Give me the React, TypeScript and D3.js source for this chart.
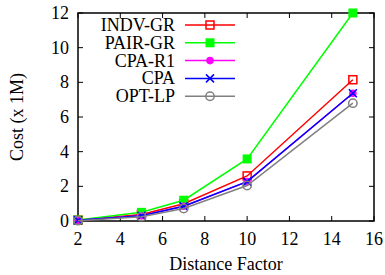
import React, { useEffect, useRef } from "react";
import * as d3 from "d3";

// distance factors on x axis
const distance = [2, 5, 7, 10, 15];

const indvGr = [0.05, 0.38, 1.0, 2.6, 8.15];
const pairGr = [0.06, 0.5, 1.2, 3.58, 12.0];
const cpaR1 = [0.04, 0.3, 0.85, 2.27, 7.37];
const cpa = [0.04, 0.3, 0.85, 2.27, 7.37];
const optLp = [0.02, 0.25, 0.72, 2.05, 6.8];

const seriesNames = ["INDV-GR", "PAIR-GR", "CPA-R1", "CPA", "OPT-LP"];
const seriesColors = ["#ff0000", "#00ff00", "#ff00ff", "#0000ff", "#808080"];
const seriesMarkers = ["openSquare", "square", "dot", "cross", "openCircle"];

const xTicks = [2, 4, 6, 8, 10, 12, 14, 16];
const yTicks = [0, 2, 4, 6, 8, 10, 12];

function App() {
  const ref = useRef<SVGSVGElement>(null);

  useEffect(() => {
    const svg = d3.select(ref.current);
    svg.selectAll("*").remove();

    const left = 78, right = 374, top = 13, bottom = 221;

    const x = d3.scaleLinear().domain([2, 16]).range([left, right]);
    const y = d3.scaleLinear().domain([0, 12]).range([bottom, top]);

    const g = svg.append("g").style("font-family", "'Liberation Serif', serif").style("font-size", "18px");

    // inward ticks on all four sides
    const tick = 5;
    xTicks.forEach((t) => {
      g.append("line").attr("x1", x(t)).attr("x2", x(t)).attr("y1", bottom).attr("y2", bottom - tick).attr("stroke", "#000");
      g.append("line").attr("x1", x(t)).attr("x2", x(t)).attr("y1", top).attr("y2", top + tick).attr("stroke", "#000");
      g.append("text").attr("x", x(t)).attr("y", bottom + 24).attr("text-anchor", "middle").text(t);
    });
    yTicks.forEach((t) => {
      g.append("line").attr("x1", left).attr("x2", left + tick).attr("y1", y(t)).attr("y2", y(t)).attr("stroke", "#000");
      g.append("line").attr("x1", right).attr("x2", right - tick).attr("y1", y(t)).attr("y2", y(t)).attr("stroke", "#000");
      g.append("text").attr("x", left - 9).attr("y", y(t) + 6).attr("text-anchor", "end").text(t);
    });

    g.append("rect").attr("x", left).attr("y", top).attr("width", right - left).attr("height", bottom - top)
      .attr("fill", "none").attr("stroke", "#000").attr("stroke-width", 1.5);

    g.append("text").attr("x", (left + right) / 2).attr("y", 270).attr("text-anchor", "middle").text("Distance Factor");
    g.append("text").attr("transform", `translate(23, ${(top + bottom) / 2}) rotate(-90)`)
      .attr("text-anchor", "middle").text("Cost (x 1M)");

    const drawMarker = (sel: any, kind: string, cx: number, cy: number, color: string) => {
      const s = 4;
      if (kind === "openSquare") {
        sel.append("rect").attr("x", cx - s).attr("y", cy - s).attr("width", 2 * s).attr("height", 2 * s)
          .attr("fill", "none").attr("stroke", color).attr("stroke-width", 1.5);
      } else if (kind === "square") {
        sel.append("rect").attr("x", cx - s - 0.5).attr("y", cy - s - 0.5).attr("width", 2 * s + 1).attr("height", 2 * s + 1)
          .attr("fill", color);
      } else if (kind === "dot") {
        sel.append("circle").attr("cx", cx).attr("cy", cy).attr("r", 3.8).attr("fill", color);
      } else if (kind === "cross") {
        sel.append("path").attr("d", `M${cx - s},${cy - s}L${cx + s},${cy + s}M${cx - s},${cy + s}L${cx + s},${cy - s}`)
          .attr("stroke", color).attr("stroke-width", 1.5);
      } else {
        sel.append("circle").attr("cx", cx).attr("cy", cy).attr("r", 4.2)
          .attr("fill", "none").attr("stroke", color).attr("stroke-width", 1.5);
      }
    };

    const allSeries = [indvGr, pairGr, cpaR1, cpa, optLp];
    const line = d3.line<number>().x((d, i) => x(distance[i])).y((d) => y(d));

    allSeries.forEach((vals, k) => {
      const sg = g.append("g");
      sg.append("path").datum(vals).attr("d", line).attr("fill", "none")
        .attr("stroke", seriesColors[k]).attr("stroke-width", 1.5);
      vals.forEach((v, i) => drawMarker(sg, seriesMarkers[k], x(distance[i]), y(v), seriesColors[k]));
    });

    // legend
    const legTop = 25, legStep = 17.8;
    seriesNames.forEach((name, k) => {
      const ly = legTop + k * legStep;
      g.append("text").attr("x", 175).attr("y", ly + 6).attr("text-anchor", "end").text(name);
      g.append("line").attr("x1", 185).attr("x2", 235).attr("y1", ly).attr("y2", ly)
        .attr("stroke", seriesColors[k]).attr("stroke-width", 1.5);
      drawMarker(g, seriesMarkers[k], 210, ly, seriesColors[k]);
    });
  }, []);

  return <svg ref={ref} width={385} height={275} style={{ display: "block", position: "absolute", left: 0, top: 0 }} />;
}

export default App;
